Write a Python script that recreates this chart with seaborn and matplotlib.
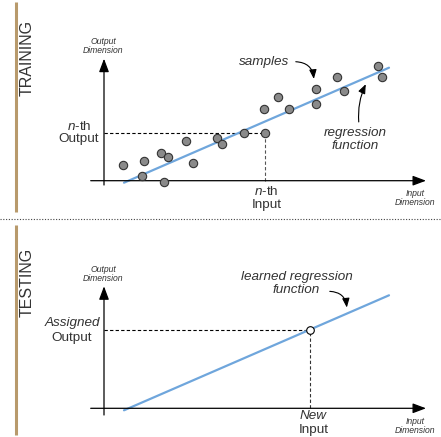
# Regression diagram: training vs testing
import matplotlib
matplotlib.use("Agg")
import matplotlib.pyplot as plt
from matplotlib.lines import Line2D
import seaborn as sns

# training samples (input, output)
sample_input = [1.9, 3.77, 4.0, 5.73, 6.43, 6.03, 8.17, 8.93, 11.33, 11.77, 13.97,
                16.1, 16.03, 17.43, 18.53, 21.2, 21.2, 23.3, 23.97, 27.37, 27.8]
sample_output = [1.57, 0.5, 2.0, 2.74, 2.34, -0.1, 3.94, 1.8, 4.24, 3.7, 4.8,
                 4.8, 7.17, 8.37, 7.17, 9.14, 7.7, 10.34, 8.94, 11.44, 10.34]
nth = 11

# regression line end points
reg_x = [2.0, 28.5]
reg_y = [-0.2, 11.3]

# testing point
new_input = 20.6
assigned_output = 7.82

sns.set_style("white")
plt.rcParams["font.family"] = ["Liberation Sans", "DejaVu Sans"]
plt.rcParams["mathtext.fontset"] = "custom"
plt.rcParams["mathtext.rm"] = "Liberation Sans"
plt.rcParams["mathtext.it"] = "Liberation Sans:italic"

TXT = "#333333"
BLUE = "#6fa6dc"
TAN = "#b89a6c"
HEAD = "-|>,head_length=0.8,head_width=0.3"

fig = plt.figure(figsize=(4.41, 4.37), dpi=100)
ax_top = fig.add_axes([0, 218 / 437, 1, 219 / 437])
ax_bot = fig.add_axes([0, 0, 1, 218 / 437])
ax_top.set_xlim(-10.4, 33.7)
ax_top.set_ylim(-3.83, 18.07)
ax_bot.set_xlim(-10.4, 33.7)
ax_bot.set_ylim(-2.87, 18.93)
for ax in (ax_top, ax_bot):
    ax.axis("off")
    ax.patch.set_alpha(0)


def draw_axes(ax, y_bottom):
    arrow = dict(arrowstyle=HEAD, color="black", lw=0.9, shrinkA=0, shrinkB=0)
    ax.annotate("", xy=(32.2, 0), xytext=(-1.33, 0), arrowprops=arrow)
    ax.annotate("", xy=(0, 12.2), xytext=(0, y_bottom), arrowprops=arrow)
    ax.text(-0.1, 13.45, "Output\nDimension", fontsize=6.2, style="italic",
            ha="center", va="center", color=TXT, linespacing=1.05)
    ax.text(31.1, -1.75, "Input\nDimension", fontsize=6.2, style="italic",
            ha="center", va="center", color=TXT, linespacing=1.05)


def small_arrow(ax, start, end, rad):
    ax.annotate("", xy=end, xytext=start,
                arrowprops=dict(arrowstyle="-|>,head_length=0.55,head_width=0.22",
                                color="black", lw=0.8,
                                connectionstyle=f"arc3,rad={rad}"))


# ---------------- TRAINING ----------------
draw_axes(ax_top, -0.43)
ax_top.plot([0, sample_input[nth]], [sample_output[nth]] * 2, ls=(0, (3, 2)),
            color="black", lw=0.8)
ax_top.plot([sample_input[nth]] * 2, [0, sample_output[nth]], ls=(0, (3, 2)),
            color="#555555", lw=0.8)
sns.lineplot(x=reg_x, y=reg_y, ax=ax_top, color=BLUE, lw=1.6, zorder=2)
sns.scatterplot(x=sample_input, y=sample_output, ax=ax_top, s=36,
                color="#8a8a8a", edgecolor="#333333", linewidth=0.8, zorder=3)

ax_top.text(-0.5, 4.82, "$n$-th\nOutput", fontsize=9.7, ha="right", va="center",
            color=TXT, linespacing=1.1, multialignment="center")
ax_top.text(16.25, -1.75, "$n$-th\nInput", fontsize=9.7, ha="center", va="center",
            color=TXT, linespacing=1.1)
ax_top.text(16.0, 11.9, "samples", fontsize=9.7, style="italic", ha="center",
            va="center", color=TXT)
ax_top.text(25.1, 4.1, "regression\nfunction", fontsize=9.7, style="italic",
            ha="center", va="center", color=TXT, linespacing=1.1)
small_arrow(ax_top, (18.9, 11.9), (21.0, 9.9), -0.5)
small_arrow(ax_top, (25.5, 5.6), (26.3, 9.9), -0.15)
ax_top.text(-7.7, 12.27, "TRAINING", fontsize=11.5, rotation=90, ha="center",
            va="center", color=TXT)
ax_top.plot([-8.83, -8.83], [-3.13, 17.87], color=TAN, lw=2.2, solid_capstyle="butt")

# ---------------- TESTING ----------------
draw_axes(ax_bot, -0.67)
ax_bot.plot([0, new_input], [assigned_output] * 2, ls=(0, (3, 2)),
            color="black", lw=0.8)
ax_bot.plot([new_input] * 2, [0, assigned_output], ls=(0, (3, 2)),
            color="#333333", lw=0.8)
sns.lineplot(x=reg_x, y=reg_y, ax=ax_bot, color=BLUE, lw=1.6, zorder=2)
sns.scatterplot(x=[new_input], y=[assigned_output], ax=ax_bot, s=30,
                color="white", edgecolor="black", linewidth=0.8, zorder=3)

ax_bot.text(-3.15, 8.55, "Assigned", fontsize=9.7, style="italic", ha="center",
            va="center", color=TXT)
ax_bot.text(-3.25, 7.0, "Output", fontsize=9.7, ha="center", va="center", color=TXT)
ax_bot.text(20.93, -0.78, "New", fontsize=9.7, style="italic", ha="center",
            va="center", color=TXT)
ax_bot.text(20.93, -2.2, "Input", fontsize=9.7, ha="center", va="center", color=TXT)
ax_bot.text(19.25, 12.5, "learned regression\nfunction", fontsize=9.7,
            style="italic", ha="center", va="center", color=TXT, linespacing=1.1)
small_arrow(ax_bot, (22.3, 11.7), (24.3, 9.8), -0.5)
ax_bot.text(-7.7, 12.6, "TESTING", fontsize=11.5, rotation=90, ha="center",
            va="center", color=TXT)
ax_bot.plot([-8.83, -8.83], [-2.67, 18.3], color=TAN, lw=2.2, solid_capstyle="butt")

# dotted separator
fig.add_artist(Line2D([0, 1], [218 / 437, 218 / 437], transform=fig.transFigure,
                      color="#444444", lw=0.8, ls=(0, (1, 1.5))))

fig.savefig("out.png", dpi=100)
